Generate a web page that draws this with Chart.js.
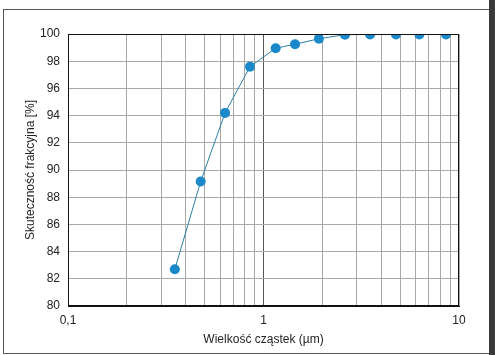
<!DOCTYPE html>
<html>
<head>
<meta charset="utf-8">
<script src="https://cdn.jsdelivr.net/npm/chart.js@4"></script>
<style>
  body { margin: 0; background: #fff; }
  #wrap { position: relative; width: 495px; height: 355px; overflow: hidden; }
  #frame { position: absolute; left: 3px; top: 9px; width: 485px; height: 343px; border: 1px solid #555; border-right: none; }
  #edge { position: absolute; left: 489px; top: 0; width: 6px; height: 355px; background: #3a3a3a; }
  canvas { position: absolute; left: 0; top: 0; }
</style>
</head>
<body>
<div id="wrap">
  <div id="frame"></div>
  <div id="edge"></div>
  <canvas id="chart" width="495" height="355"></canvas>
</div>
<script>
// particle size (µm) and fractional efficiency (%)
const wielkosc = [0.352, 0.477, 0.636, 0.853, 1.154, 1.45, 1.92, 2.61, 3.51, 4.76, 6.27, 8.58];
const skutecznosc = [82.7, 89.15, 94.2, 97.6, 98.95, 99.25, 99.65, 99.95, 99.97, 99.97, 99.97, 99.97];

const xTicks = [0.1, 0.2, 0.3, 0.4, 0.5, 0.6, 0.7, 0.8, 0.9, 1, 2, 3, 4, 5, 6, 7, 8, 9, 10];
const xTickLabels = { 0.1: '0,1', 1: '1', 10: '10' };

const fontFam = '"Liberation Sans Narrow", "Liberation Sans", Arial, sans-serif';

const ramka = {
  id: 'ramka',
  afterDraw(chart) {
    const { ctx, chartArea: a } = chart;
    ctx.save();
    ctx.strokeStyle = '#111';
    ctx.lineWidth = 1;
    ctx.strokeRect(a.left + 0.5, a.top + 0.5, a.right - a.left - 1, a.bottom - a.top - 1);
    ctx.restore();
  }
};

new Chart(document.getElementById('chart'), {
  type: 'line',
  data: {
    datasets: [{
      data: wielkosc.map((x, i) => ({ x: x, y: skutecznosc[i] })),
      borderColor: '#2b7fa6',
      borderWidth: 1,
      backgroundColor: '#1a88c9',
      pointBackgroundColor: '#1a88c9',
      pointBorderWidth: 0,
      pointRadius: 5,
      tension: 0
    }]
  },
  options: {
    responsive: false,
    animation: false,
    layout: { padding: { left: 0, right: 36, top: 34, bottom: 0 } },
    plugins: { legend: { display: false }, tooltip: { enabled: false } },
    scales: {
      x: {
        type: 'logarithmic',
        min: 0.1,
        max: 10,
        afterBuildTicks: (s) => { s.ticks = xTicks.map(v => ({ value: v })); },
        afterFit: (s) => { s.height = 49; },
        grid: {
          drawTicks: false,
          color: (c) => c.tick && c.tick.value === 1 ? '#555' : '#a8a8a8',
          lineWidth: 1
        },
        border: { color: '#111' },
        ticks: {
          autoSkip: false,
          maxRotation: 0,
          padding: 7,
          color: '#222',
          font: { family: fontFam, size: 12 },
          callback: (v) => xTickLabels[v] || ''
        },
        title: {
          display: true,
          text: 'Wielkość cząstek (µm)',
          color: '#222',
          font: { family: fontFam, size: 12 },
          padding: { top: 0, bottom: 8 }
        }
      },
      y: {
        min: 80,
        max: 100,
        afterFit: (s) => { s.width = 68; },
        grid: { drawTicks: false, color: '#a8a8a8', lineWidth: 1 },
        border: { color: '#111' },
        ticks: {
          stepSize: 2,
          padding: 8,
          color: '#222',
          font: { family: fontFam, size: 12 }
        },
        title: {
          display: true,
          text: 'Skuteczność frakcyjna [%]',
          color: '#222',
          font: { family: fontFam, size: 12 },
          padding: { top: 23, bottom: 0 }
        }
      }
    }
  },
  plugins: [ramka]
});
</script>
</body>
</html>
